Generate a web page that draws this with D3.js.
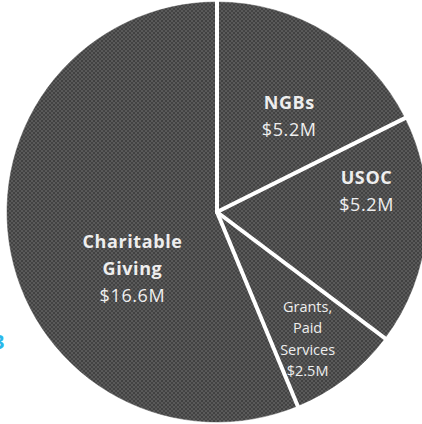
<!DOCTYPE html>
<html>
<head>
<meta charset="utf-8">
<script src="https://cdn.jsdelivr.net/npm/d3@7"></script>
<style>
  body { margin: 0; background: #fff; overflow: hidden; }
  svg { display: block; }
</style>
</head>
<body>
<div id="chart"></div>
<script>
// slice data (clockwise from 12 o'clock)
var names = ["NGBs", "USOC", "Grants,\nPaid\nServices", "Charitable\nGiving"];
var amounts = [5.2, 5.2, 2.5, 16.6];
var amountLabels = ["$5.2M", "$5.2M", "$2.5M", "$16.6M"];

var width = 422, height = 424;
var cx = 217, cy = 212, radius = 210;

// label placement: angle (deg, clockwise from top) and distance from centre
var labelPlace = [
  { a: 37, r: 120, size: 18, lh: 27, bold: true },
  { a: 82, r: 151, size: 18, lh: 27, bold: true },
  { a: 144.5, r: 156, size: 14.5, lh: 21.5, bold: false },
  { a: 236, r: 102, size: 18, lh: 27, bold: true }
];

var svg = d3.select("#chart").append("svg")
  .attr("width", width)
  .attr("height", height);

// dithered grey texture like the scanned original
var pat = svg.append("defs").append("pattern")
  .attr("id", "dither")
  .attr("width", 4).attr("height", 4)
  .attr("patternUnits", "userSpaceOnUse");
pat.append("rect").attr("width", 4).attr("height", 4).attr("fill", "#5a5a5a");
pat.append("rect").attr("width", 2).attr("height", 2).attr("fill", "#414141");
pat.append("rect").attr("x", 2).attr("y", 2).attr("width", 2).attr("height", 2).attr("fill", "#444444");

var g = svg.append("g")
  .attr("transform", "translate(" + cx + "," + cy + ")");

var pie = d3.pie().sort(null).value(function (d) { return d; });
var arcs = pie(amounts);

var arc = d3.arc().innerRadius(0).outerRadius(radius);

g.selectAll(".slice")
  .data(arcs)
  .enter().append("path")
  .attr("class", "slice")
  .attr("d", arc)
  .attr("fill", "url(#dither)")
  .attr("stroke", "url(#dither)")
  .attr("stroke-width", 0.5);

// white radial separators at each slice boundary
g.selectAll(".sep")
  .data(arcs)
  .enter().append("line")
  .attr("class", "sep")
  .attr("x1", 0).attr("y1", 0)
  .attr("x2", function (d) { return (radius + 4) * Math.sin(d.startAngle); })
  .attr("y2", function (d) { return -(radius + 4) * Math.cos(d.startAngle); })
  .attr("stroke", "#fff")
  .attr("stroke-width", 4)
  .attr("stroke-linecap", "round");

// labels
arcs.forEach(function (d, i) {
  var p = labelPlace[i];
  var ang = p.a * Math.PI / 180;
  var x = p.r * Math.sin(ang), y = -p.r * Math.cos(ang);
  var lines = names[i].split("\n");
  var all = lines.concat([amountLabels[i]]);
  var top = y - (all.length - 1) * p.lh / 2;
  var t = g.append("text")
    .attr("text-anchor", "middle")
    .attr("fill", "#eeeeee")
    .style("font-family", "'Open Sans', 'Liberation Sans', sans-serif")
    .style("font-size", p.size + "px")
    .style("letter-spacing", p.bold ? "0.6px" : "0px");
  all.forEach(function (s, k) {
    t.append("tspan")
      .attr("x", x)
      .attr("y", top + k * p.lh)
      .attr("dy", "0.35em")
      .style("font-weight", (k < lines.length && p.bold) ? "bold" : "normal")
      .text(s);
  });
});

// cut-off cyan glyph at the left edge of the original picture
svg.append("text")
  .attr("x", -7)
  .attr("y", 349)
  .attr("fill", "#2ab8ea")
  .style("font-family", "'Open Sans', sans-serif")
  .style("font-weight", "bold")
  .style("font-size", "20px")
  .text("3");
</script>
</body>
</html>
